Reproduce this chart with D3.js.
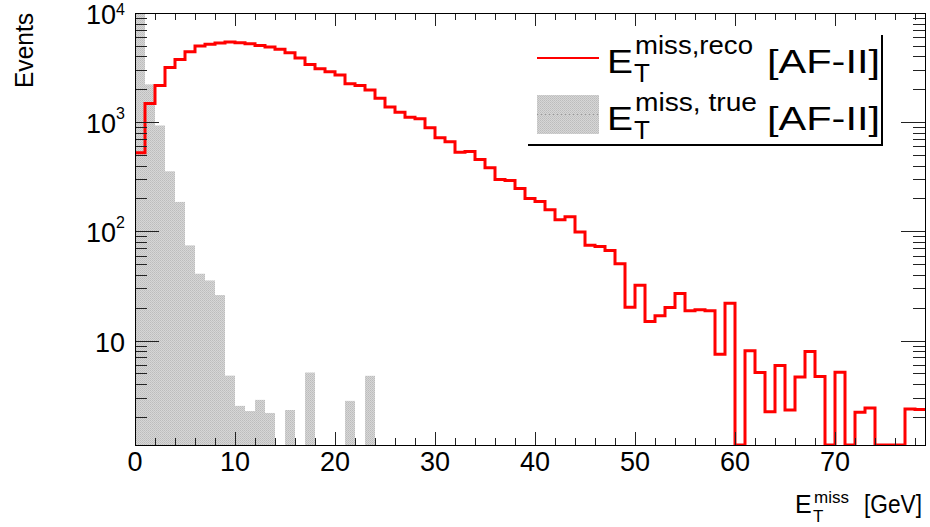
<!DOCTYPE html>
<html>
<head>
<meta charset="utf-8">
<script src="https://cdn.jsdelivr.net/npm/d3@7"></script>
<style>
  html, body { margin: 0; padding: 0; background: #fff; }
  svg { display: block; font-family: "Liberation Sans", Arial, Helvetica, sans-serif; }
</style>
</head>
<body>
<svg id="chart" width="930" height="527"></svg>
<script>
// Missing transverse energy, 1 GeV bins starting at 0
const binEdges = d3.range(0, 80);            // lower edges 0..79
const recoCounts = [
  525, 1480, 2170, 3160, 3760, 4420, 4980, 5160, 5310, 5420,
  5350, 5240, 5050, 4870, 4650, 4330, 3870, 3380, 3090, 2900,
  2700, 2250, 2170, 1970, 1660, 1380, 1235, 1110, 1075, 889,
  719, 661, 531, 539, 455, 382, 298, 292, 247, 200,
  188, 158, 128, 136, 98.6, 74.4, 72.8, 66.9, 50.6, 20.2,
  32, 14.9, 16.9, 20.1, 27, 18.7, 19.1, 18.7, 7.5, 22,
  0, 8.05, 5.09, 2.23, 5.9, 2.31, 4.64, 7.93, 4.67, 0,
  5.13, 0, 2.2, 2.41, 0, 0, 0, 2.36, 2.33
];
const trueCounts = [
  14000, 2220, 933, 355, 186, 74.4, 40.9, 35.5, 26.1, 4.77,
  2.52, 2.26, 2.86, 2.17, 0, 2.31, 0, 5.09, 0, 0,
  0, 2.8, 0, 4.75
];
const xTickValues = [0, 10, 20, 30, 40, 50, 60, 70];
const yTickExponents = [1, 2, 3, 4];
const legendLabels = ["miss,reco", "miss, true"];

const svg = d3.select("#chart");
const frame = { left: 135, right: 925, top: 13, bottom: 445 };

const x = d3.scaleLinear().domain([0, 79]).range([frame.left, frame.right]);
const y = d3.scaleLog().domain([1.104, 10000]).range([frame.bottom, frame.top]);
const yv = v => (v > 0 ? y(v) : frame.bottom);

const defs = svg.append("defs");
defs.append("clipPath").attr("id", "plotClip")
  .append("rect")
  .attr("x", frame.left).attr("y", frame.top)
  .attr("width", frame.right - frame.left).attr("height", frame.bottom - frame.top);

// stippled grey fill
const pat = defs.append("pattern").attr("id", "stipple")
  .attr("width", 2).attr("height", 2).attr("patternUnits", "userSpaceOnUse");
pat.append("rect").attr("width", 2).attr("height", 2).attr("fill", "#d6d6d6");
pat.append("rect").attr("width", 1).attr("height", 1).attr("fill", "#bcbcbc");
pat.append("rect").attr("x", 1).attr("y", 1).attr("width", 1).attr("height", 1).attr("fill", "#c4c4c4");

const plot = svg.append("g").attr("clip-path", "url(#plotClip)");

// truth histogram (filled)
plot.selectAll("rect.truth")
  .data(trueCounts.map((v, i) => ({ lo: binEdges[i], v })).filter(d => d.v > 0))
  .join("rect")
  .attr("class", "truth")
  .attr("x", d => x(d.lo))
  .attr("width", d => x(d.lo + 1) - x(d.lo))
  .attr("y", d => y(d.v))
  .attr("height", d => frame.bottom - y(d.v))
  .attr("fill", "url(#stipple)");

// axis ticks
const axisG = svg.append("g").attr("stroke", "#222").attr("stroke-width", 1).attr("fill", "none");
const xMinor = d3.range(0, 79, 2);
xMinor.forEach(t => {
  const major = t % 10 === 0;
  const px = Math.round(x(t)) + 0.5;
  axisG.append("line").attr("x1", px).attr("x2", px)
    .attr("y1", frame.bottom).attr("y2", frame.bottom - (major ? 13 : 7));
  axisG.append("line").attr("x1", px).attr("x2", px)
    .attr("y1", frame.top).attr("y2", frame.top + (major ? 13 : 7));
});
const yTicks = [];
for (let e = 0; e <= 3; e++) {
  for (let m = 1; m <= 9; m++) {
    const v = m * Math.pow(10, e);
    if (v >= y.domain()[0] && v <= y.domain()[1]) yTicks.push({ v, major: m === 1 });
  }
}
yTicks.push({ v: 10000, major: true });
yTicks.forEach(t => {
  const py = Math.round(y(t.v)) + 0.5;
  const len = t.major ? 24 : 12;
  axisG.append("line").attr("x1", frame.left).attr("x2", frame.left + len).attr("y1", py).attr("y2", py);
  axisG.append("line").attr("x1", frame.right).attr("x2", frame.right - len).attr("y1", py).attr("y2", py);
});

// reco histogram outline
const recoPts = [];
recoCounts.forEach((v, i) => {
  recoPts.push([x(binEdges[i]), yv(v)]);
  recoPts.push([x(binEdges[i] + 1), yv(v)]);
});
plot.append("path")
  .attr("d", d3.line()(recoPts))
  .attr("fill", "none")
  .attr("stroke", "#ff0000")
  .attr("stroke-width", 3)
  .attr("stroke-linejoin", "miter");

// frame
svg.append("rect")
  .attr("x", frame.left + 0.5).attr("y", frame.top + 0.5)
  .attr("width", frame.right - frame.left).attr("height", frame.bottom - frame.top)
  .attr("fill", "none").attr("stroke", "#000").attr("stroke-width", 1);

// x tick labels
svg.append("g").selectAll("text")
  .data(xTickValues)
  .join("text")
  .attr("x", d => x(d))
  .attr("y", 471)
  .attr("text-anchor", "middle")
  .attr("font-size", 27)
  .attr("fill", "#000")
  .text(d => d);

// y tick labels
const yl = svg.append("g");
yTickExponents.forEach(e => {
  const t = yl.append("text")
    .attr("x", 125)
    .attr("y", y(Math.pow(10, e)) + 11)
    .attr("text-anchor", "end")
    .attr("font-size", 27)
    .attr("fill", "#000");
  t.append("tspan").text("10");
  if (e > 1) t.append("tspan").attr("dy", e === 4 ? -9 : -14).attr("font-size", 16).text(e);
});

// axis titles
svg.append("text")
  .attr("transform", "translate(33,13) rotate(-90)")
  .attr("text-anchor", "end")
  .attr("font-size", 25)
  .attr("textLength", 75).attr("lengthAdjust", "spacingAndGlyphs")
  .text("Events");

const xt = svg.append("g").attr("fill", "#000");
xt.append("text").attr("x", 795).attr("y", 513).attr("font-size", 25).text("E");
xt.append("text").attr("x", 814).attr("y", 503).attr("font-size", 17).text("miss");
xt.append("text").attr("x", 813).attr("y", 522).attr("font-size", 17).text("T");
xt.append("text").attr("x", 864).attr("y", 513).attr("font-size", 25)
  .attr("textLength", 58).attr("lengthAdjust", "spacingAndGlyphs").text("[GeV]");

// legend
const lg = svg.append("g");
lg.append("line").attr("x1", 528).attr("x2", 883).attr("y1", 145).attr("y2", 145)
  .attr("stroke", "#000").attr("stroke-width", 2);
lg.append("line").attr("x1", 882).attr("x2", 882).attr("y1", 35).attr("y2", 145)
  .attr("stroke", "#000").attr("stroke-width", 2);

lg.append("line").attr("x1", 537).attr("x2", 599).attr("y1", 58).attr("y2", 58)
  .attr("stroke", "#ff0000").attr("stroke-width", 2);
lg.append("rect").attr("x", 537).attr("y", 95).attr("width", 62).attr("height", 39)
  .attr("fill", "url(#stipple)");
lg.append("line").attr("x1", 537).attr("x2", 599).attr("y1", 114.5).attr("y2", 114.5)
  .attr("stroke", "#999").attr("stroke-width", 1).attr("stroke-dasharray", "1,3");

const rowBase = [73, 130];
legendLabels.forEach((lab, i) => {
  const b = rowBase[i];
  lg.append("text").attr("x", 607).attr("y", b).attr("font-size", 34)
    .attr("textLength", 26).attr("lengthAdjust", "spacingAndGlyphs").text("E");
  lg.append("text").attr("x", 635).attr("y", b - 19).attr("font-size", 26)
    .attr("textLength", i === 0 ? 118 : 122).attr("lengthAdjust", "spacingAndGlyphs").text(lab);
  lg.append("text").attr("x", 634).attr("y", b + 9).attr("font-size", 26).text("T");
  lg.append("text").attr("x", 767).attr("y", b).attr("font-size", 33)
    .attr("textLength", 113).attr("lengthAdjust", "spacingAndGlyphs").text("[AF-II]");
});
</script>
</body>
</html>
